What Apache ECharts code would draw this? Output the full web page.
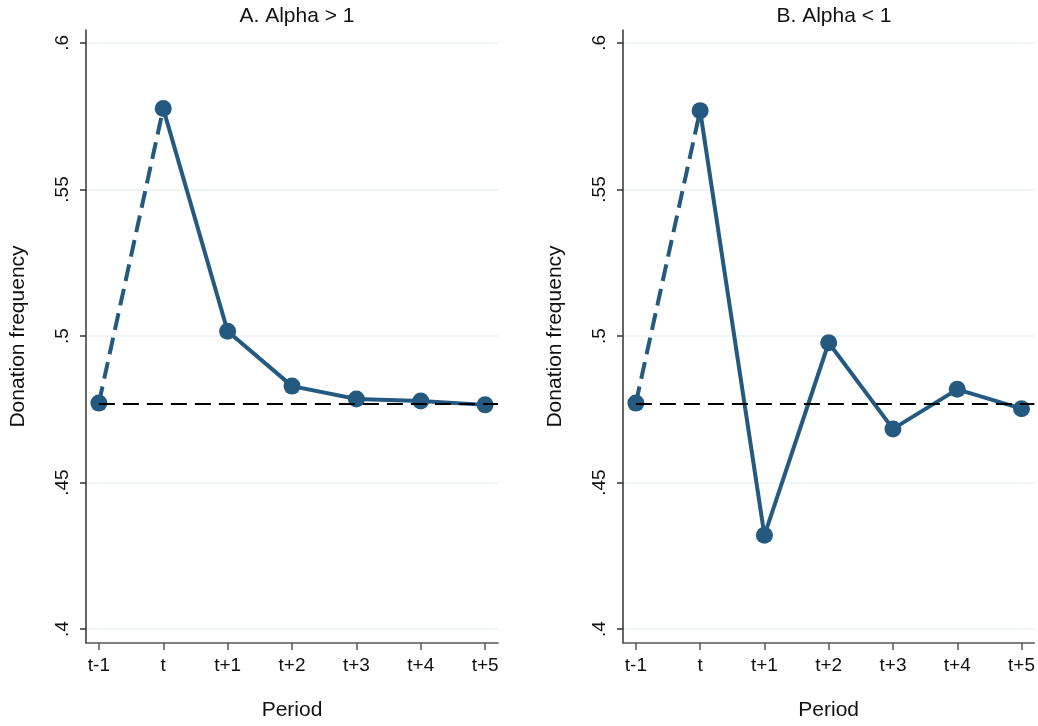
<!DOCTYPE html>
<html>
<head>
<meta charset="utf-8">
<script src="https://cdn.jsdelivr.net/npm/echarts@6/dist/echarts.min.js"></script>
<style>
  html, body { margin: 0; padding: 0; background: #fff; }
  #chart { width: 1038px; height: 726px; }
</style>
</head>
<body>
<div id="chart"></div>
<script>
// 期间标签
const periods = ['t-1', 't', 't+1', 't+2', 't+3', 't+4', 't+5'];
// 两个面板的捐赠频率
const alphaAbove = [0.4771, 0.5776, 0.5016, 0.4829, 0.4785, 0.4778, 0.4765];
const alphaBelow = [0.4771, 0.5769, 0.4320, 0.4977, 0.4683, 0.4818, 0.4752];
// 基准线（t-1 水平）
const baselineA = 0.4769;
const baselineB = 0.4769;
// y 轴刻度
const yTicks = [0.4, 0.45, 0.5, 0.55, 0.6];
const panelTitles = ['A. Alpha > 1', 'B. Alpha < 1'];

const FONT = '"Liberation Sans", Arial, Helvetica, sans-serif';
const NAVY = '#245a80';
const X_MIN = -0.2;
const X_MAX = 6.2;

const chart = echarts.init(document.getElementById('chart'));

function yLabel(v) {
  // Stata 风格: .45 而不是 0.45
  return String(+v.toFixed(2)).replace(/^0/, '');
}

function xAxisFor(i) {
  return {
    type: 'value', gridIndex: i, min: X_MIN, max: X_MAX,
    name: 'Period', nameLocation: 'middle', nameGap: 57,
    nameTextStyle: { fontFamily: FONT, fontSize: 21, color: '#111' },
    axisLine: { show: true, onZero: false, lineStyle: { color: '#555', width: 1.5 } },
    axisTick: { show: true, length: 7, customValues: periods.map((p, k) => k),
      lineStyle: { color: '#555', width: 1.5 } },
    axisLabel: { customValues: periods.map((p, k) => k), margin: 13,
      fontFamily: FONT, fontSize: 19, color: '#111',
      formatter: v => periods[Math.round(v)] },
    splitLine: { show: false },
  };
}

function yAxisFor(i) {
  return {
    type: 'value', gridIndex: i, min: 0.39525, max: 0.60441,
    name: 'Donation frequency', nameLocation: 'middle', nameRotate: 90, nameGap: 57,
    nameTextStyle: { fontFamily: FONT, fontSize: 21, color: '#111' },
    axisLine: { show: true, onZero: false, lineStyle: { color: '#333', width: 1.5 } },
    axisTick: { show: true, length: 6, customValues: yTicks,
      lineStyle: { color: '#333', width: 1.5 } },
    axisLabel: { customValues: yTicks, rotate: 90, margin: 14,
      fontFamily: FONT, fontSize: 19, color: '#111', formatter: yLabel },
    splitLine: { show: true, customValues: yTicks,
      lineStyle: { color: '#eaf2f3', width: 1.5 } },
  };
}

function panelSeries(i, values, baseline) {
  return [
    {
      // t-1 到 t 的虚线段
      type: 'line', xAxisIndex: i, yAxisIndex: i,
      data: [[0, values[0]], [1, values[1]]],
      symbol: 'none',
      lineStyle: { color: NAVY, width: 4, type: [17, 8] },
      z: 2,
      markLine: {
        silent: true, symbol: 'none', label: { show: false },
        lineStyle: { color: '#000', width: 2, type: [16, 8] },
        data: [[{ coord: [0, baseline] }, { coord: [X_MAX, baseline] }]],
      },
    },
    {
      type: 'line', xAxisIndex: i, yAxisIndex: i,
      data: values.slice(1).map((v, k) => [k + 1, v]),
      symbol: 'circle', symbolSize: 17,
      itemStyle: { color: NAVY, opacity: 1 },
      lineStyle: { color: NAVY, width: 4 },
      z: 3,
    },
    {
      type: 'scatter', xAxisIndex: i, yAxisIndex: i,
      data: [[0, values[0]]],
      symbol: 'circle', symbolSize: 17,
      itemStyle: { color: NAVY, opacity: 1 },
      z: 4,
    },
  ];
}

chart.setOption({
  animation: false,
  backgroundColor: '#fff',
  title: [
    { text: panelTitles[0], left: 292, top: 1, textAlign: 'center',
      textStyle: { fontFamily: FONT, fontSize: 21, fontWeight: 'normal', color: '#111' } },
    { text: panelTitles[1], left: 829, top: 1, textAlign: 'center',
      textStyle: { fontFamily: FONT, fontSize: 21, fontWeight: 'normal', color: '#111' } },
  ],
  grid: [
    { left: 86, top: 30, width: 412, height: 616 },
    { left: 623, top: 30, width: 412, height: 616 },
  ],
  xAxis: [xAxisFor(0), xAxisFor(1)],
  yAxis: [yAxisFor(0), yAxisFor(1)],
  series: [
    ...panelSeries(0, alphaAbove, baselineA),
    ...panelSeries(1, alphaBelow, baselineB),
  ],
});
</script>
</body>
</html>
